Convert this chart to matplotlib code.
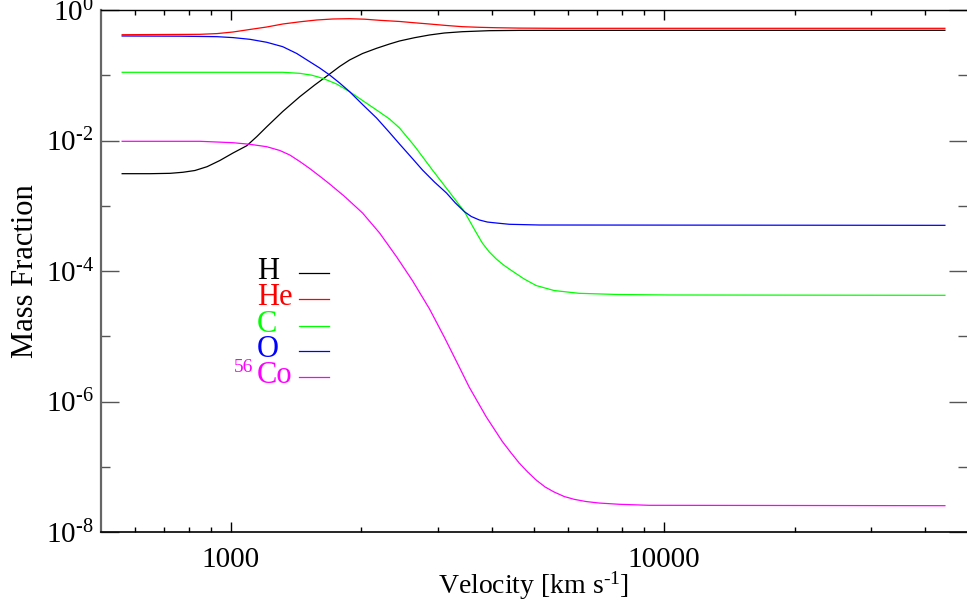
import matplotlib
matplotlib.use("Agg")
import matplotlib.pyplot as plt
from matplotlib.ticker import FixedLocator, FixedFormatter, NullFormatter

plt.rcParams["font.family"] = ["Liberation Serif", "DejaVu Serif"]
plt.rcParams["mathtext.fontset"] = "custom"
plt.rcParams["mathtext.rm"] = "Liberation Serif"
plt.rcParams["mathtext.it"] = "Liberation Serif:italic"
plt.rcParams["mathtext.bf"] = "Liberation Serif:bold"

# abundance profiles, velocity in km/s
v_H = [561, 651, 724, 775, 826, 881, 943, 1011, 1088, 1148, 1210, 1317, 1442, 1561, 1690, 1782, 1879, 2013,
       2169, 2323, 2450, 2653, 2872, 3110, 3422, 3948, 4628, 44460]
X_H = [0.0031, 0.0031, 0.00314, 0.00326, 0.00347, 0.00397, 0.00494, 0.00643, 0.00832, 0.01151, 0.01626,
       0.02782, 0.0469, 0.0709, 0.1045, 0.1362, 0.1714, 0.2154, 0.259, 0.3012, 0.335, 0.3762, 0.414, 0.4442,
       0.465, 0.482, 0.487, 0.489]

v_He = [561, 848, 929, 1011, 1106, 1210, 1317, 1442, 1578, 1717, 1879, 2035, 2204, 2450, 2653, 2872, 3144,
        3422, 3745, 4097, 4628, 5721, 44460]
X_He = [0.418, 0.424, 0.435, 0.460, 0.503, 0.549, 0.610, 0.659, 0.703, 0.728, 0.736, 0.723, 0.695, 0.667,
        0.637, 0.610, 0.579, 0.555, 0.543, 0.535, 0.528, 0.524, 0.524]

v_C = [561, 1106, 1317, 1442, 1537, 1629, 1754, 1879, 2013, 2169, 2323, 2450, 2653, 2918, 3194, 3459, 3665,
       3803, 3948, 4097, 4274, 4459, 4753, 5064, 5572, 6363, 7865, 10252, 44460]
X_C = [0.111, 0.111, 0.111, 0.107, 0.1002, 0.0898, 0.0734, 0.0560, 0.0410, 0.0293, 0.02136, 0.01555, 0.00823,
       0.00353, 0.00162, 0.000811, 0.000410, 0.000269, 0.0001955, 0.0001527, 0.0001214, 1.0e-4, 7.54e-5,
       5.99e-5, 5.02e-5, 4.55e-5, 4.36e-5, 4.29e-5, 4.24e-5]

v_O = [561, 763, 929, 1011, 1106, 1210, 1317, 1419, 1520, 1603, 1690, 1782, 1879, 2013, 2169, 2323, 2450, 2611,
       2768, 2949, 3144, 3297, 3459, 3588, 3745, 3906, 4097, 4389, 5145, 44460]
X_O = [0.3995, 0.3968, 0.390, 0.3776, 0.3555, 0.3199, 0.274, 0.2154, 0.1613, 0.1292, 0.1009, 0.0761, 0.0560,
       0.03561, 0.0221, 0.01326, 0.00883, 0.005489, 0.00353, 0.002312, 0.00157, 0.001102, 0.000811, 0.000684,
       0.000605, 0.000563, 0.000544, 0.00052, 0.000507, 0.000501]

v_Co = [561, 848, 1011, 1106, 1210, 1297, 1367, 1442, 1520, 1629, 1690, 1830, 2013, 2204, 2411, 2625, 2872,
        3110, 3368, 3550, 3886, 4229, 4436, 4628, 4829, 5064, 5313, 5572, 5877, 6196, 6601, 7072, 7865, 9223,
        44460]
X_Co = [0.00972, 0.00972, 0.00925, 0.008745, 0.00803, 0.007027, 0.0060, 0.004767, 0.003723, 0.002616,
        0.002154, 0.001386, 0.000774, 0.000382, 0.0001656, 7.10e-5, 2.634e-5, 9.63e-6, 3.343e-6, 1.651e-6,
        5.79e-7, 2.45e-7, 1.62e-7, 1.141e-7, 8.46e-8, 6.26e-8, 4.89e-8, 4.10e-8, 3.50e-8, 3.17e-8, 2.93e-8,
        2.78e-8, 2.66e-8, 2.566e-8, 2.53e-8]

species = [("H", v_H, X_H, "black"),
           ("He", v_He, X_He, "#ff0000"),
           ("C", v_C, X_C, "#00ff00"),
           ("O", v_O, X_O, "#0000ff"),
           ("Co", v_Co, X_Co, "#ff00ff")]

x_major = [1000, 10000]
x_major_labels = ["1000", "10000"]
x_minor = [600, 700, 800, 900, 2000, 3000, 4000, 5000, 6000, 7000, 8000, 9000, 20000, 30000, 40000]
y_major = [1e-8, 1e-6, 1e-4, 1e-2, 1]
y_major_labels = [r"$10^{\text{-}8}$", r"$10^{\text{-}6}$", r"$10^{\text{-}4}$", r"$10^{\text{-}2}$",
                  r"$10^{0}$"]
y_minor = [1e-7, 1e-5, 1e-3, 1e-1]

fig = plt.figure(figsize=(9.67, 6.03), dpi=100)
ax = fig.add_axes([100.5 / 967, 1 - 532 / 603, 866.5 / 967, 522 / 603])

for name, v, X, col in species:
    ax.plot(v, X, color=col, lw=0.9)

ax.set_xscale("log")
ax.set_yscale("log")
ax.set_xlim(500, 50000)
ax.set_ylim(1e-8, 1)

ax.xaxis.set_major_locator(FixedLocator(x_major))
ax.xaxis.set_major_formatter(FixedFormatter(x_major_labels))
ax.xaxis.set_minor_locator(FixedLocator(x_minor))
ax.xaxis.set_minor_formatter(NullFormatter())
ax.yaxis.set_major_locator(FixedLocator(y_major))
ax.yaxis.set_major_formatter(FixedFormatter(y_major_labels))
ax.yaxis.set_minor_locator(FixedLocator(y_minor))
ax.yaxis.set_minor_formatter(NullFormatter())

ax.tick_params(axis="both", which="both", direction="in", top=True, right=True, labelsize=21)
ax.tick_params(axis="x", which="major", length=7.5, width=1.0, pad=11)
ax.tick_params(axis="x", which="minor", length=3.8, width=1.0)
ax.tick_params(axis="y", which="major", length=12.7, width=1.0, color="#555555", pad=5)
ax.tick_params(axis="y", which="minor", length=6.3, width=1.0, color="#555555")

ax.spines["right"].set_visible(False)
ax.spines["left"].set_color("#666666")
ax.spines["left"].set_linewidth(1.6)
ax.spines["bottom"].set_linewidth(1.2)
ax.spines["top"].set_linewidth(1.0)

ax.set_xlabel(r"Velocity [km s$^{\text{-}1}$]", fontsize=20, labelpad=-3)
ax.set_ylabel("Mass Fraction", fontsize=22, labelpad=4)

# hand-made key
key_y = [0.4967, 0.4464, 0.3952, 0.3473, 0.2969]
for (name, v, X, col), ky in zip(species, key_y):
    ax.plot([0.2287, 0.2637], [ky, ky], color=col, lw=0.9, transform=ax.transAxes)
    ax.text(0.1806, ky - 0.012, name, color=col, fontsize=22, ha="left", va="baseline",
            transform=ax.transAxes)
ax.text(0.1765, key_y[-1] + 0.010, "56", color="#ff00ff", fontsize=14, ha="right", va="baseline",
        transform=ax.transAxes)

fig.savefig("out.png", dpi=100)
